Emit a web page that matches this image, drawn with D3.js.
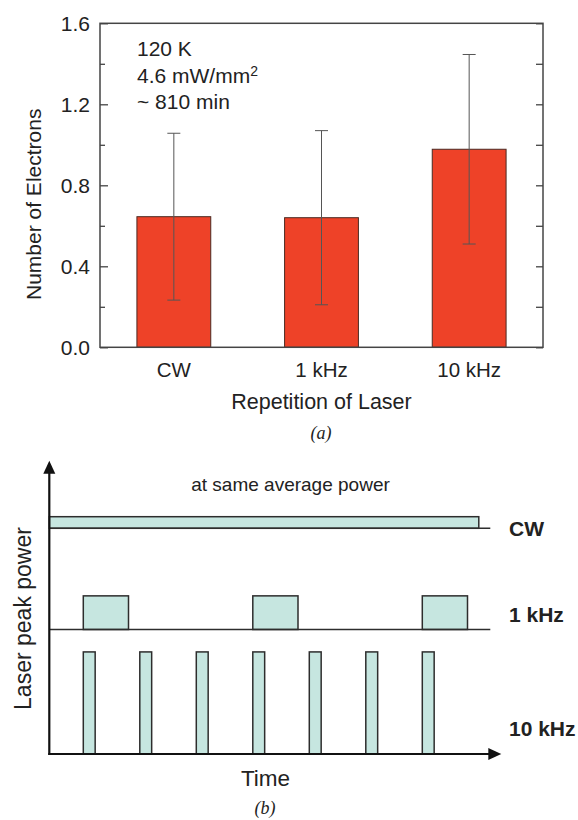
<!DOCTYPE html>
<html>
<head>
<meta charset="utf-8">
<script src="https://cdn.jsdelivr.net/npm/d3@7"></script>
<style>
  html, body { margin: 0; padding: 0; background: #fff; }
  svg { display: block; }
  text { font-family: "Liberation Sans", Arial, Helvetica, sans-serif; fill: #222; }
</style>
</head>
<body>
<svg id="chart" width="578" height="820"></svg>
<script>
// ---------- Panel (a) data ----------
const categories = ["CW", "1 kHz", "10 kHz"];
const means = [0.645, 0.64, 0.978];
const errors = [0.412, 0.43, 0.468];
const yTicks = [0, 0.4, 0.8, 1.2, 1.6];
const yMinorTicks = [0.2, 0.6, 1.0, 1.4];
const yDomain = [0, 1.6];
const annotation = ["120 K", "4.6 mW/mm", "~ 810 min"];
const annotationSup = ["", "2", ""];

// ---------- Panel (b) data ----------
const tracks = ["CW", "1 kHz", "10 kHz"];
const trackPeak = [1, 2.9, 8.8];          // relative peak power
const cwOnOff = [[-0.6, 7.0]];            // CW: on from start to end (time units)
const pulses1k = [0, 3, 6];               // pulse start times
const pulse1kWidth = 0.8;
const pulses10k = [0, 1, 2, 3, 4, 5, 6];  // pulse start times
const pulse10kWidth = 0.21;

const svg = d3.select("#chart");
const SANS = '"Liberation Sans", Arial, sans-serif';

// ================= Panel (a) =================
const A = { left: 100, right: 543, top: 23.3, bottom: 347.3 };
const x = d3.scaleBand().domain(categories).range([A.left, A.right])
  .paddingInner(0.5).paddingOuter(0.25);
const y = d3.scaleLinear().domain(yDomain).range([A.bottom, A.top]);

const gA = svg.append("g");
const data = categories.map((c, i) => ({ c, m: means[i], e: errors[i] }));

// bars
gA.selectAll("rect.bar").data(data).join("rect")
  .attr("class", "bar")
  .attr("x", d => x(d.c))
  .attr("width", x.bandwidth())
  .attr("y", d => y(d.m))
  .attr("height", d => y(0) - y(d.m))
  .attr("fill", "#ee4228")
  .attr("stroke", "#4a2a22")
  .attr("stroke-width", 1);

// error bars
const capW = 6.5;
const cx = d => x(d.c) + x.bandwidth() / 2;
const eg = gA.selectAll("g.err").data(data).join("g").attr("class", "err")
  .attr("stroke", "#555").attr("stroke-width", 1).attr("fill", "none");
eg.append("line")
  .attr("x1", cx).attr("x2", cx)
  .attr("y1", d => y(d.m + d.e)).attr("y2", d => y(d.m - d.e));
eg.append("line")
  .attr("x1", d => cx(d) - capW).attr("x2", d => cx(d) + capW)
  .attr("y1", d => y(d.m + d.e)).attr("y2", d => y(d.m + d.e));
eg.append("line")
  .attr("x1", d => cx(d) - capW).attr("x2", d => cx(d) + capW)
  .attr("y1", d => y(d.m - d.e)).attr("y2", d => y(d.m - d.e));

// frame
gA.append("rect")
  .attr("x", A.left).attr("y", A.top)
  .attr("width", A.right - A.left).attr("height", A.bottom - A.top)
  .attr("fill", "none").attr("stroke", "#444").attr("stroke-width", 1.5);

// left axis (major, labeled)
const leftAxis = gA.append("g").attr("transform", `translate(${A.left},0)`)
  .call(d3.axisLeft(y).tickValues(yTicks).tickFormat(d3.format(".1f"))
    .tickSize(-8).tickPadding(10));
leftAxis.select(".domain").remove();
leftAxis.selectAll(".tick line").attr("stroke", "#444").attr("stroke-width", 1.3);
leftAxis.selectAll(".tick text")
  .style("font-family", SANS)
  .style("font-size", "21px").attr("fill", "#222").attr("dy", "0.36em");

// left minor ticks
const leftMinor = gA.append("g").attr("transform", `translate(${A.left},0)`)
  .call(d3.axisLeft(y).tickValues(yMinorTicks).tickFormat("").tickSize(-5));
leftMinor.select(".domain").remove();
leftMinor.selectAll(".tick line").attr("stroke", "#444").attr("stroke-width", 1.3);

// right ticks
const rightAxis = gA.append("g").attr("transform", `translate(${A.right},0)`)
  .call(d3.axisRight(y).tickValues(yTicks.concat(yMinorTicks)).tickFormat("").tickSize(-7));
rightAxis.select(".domain").remove();
rightAxis.selectAll(".tick line").attr("stroke", "#444").attr("stroke-width", 1.3);

// bottom category labels
const bottomAxis = gA.append("g").attr("transform", `translate(0,${A.bottom})`)
  .call(d3.axisBottom(x).tickSize(0).tickPadding(15));
bottomAxis.select(".domain").remove();
bottomAxis.selectAll(".tick text")
  .style("font-family", SANS)
  .style("font-size", "20.5px").attr("fill", "#222");

// axis titles
gA.append("text")
  .attr("transform", `translate(41,${(A.top + A.bottom) / 2 + 19}) rotate(-90)`)
  .attr("text-anchor", "middle").style("font-size", "21px")
  .text("Number of Electrons");
gA.append("text")
  .attr("x", (A.left + A.right) / 2).attr("y", 409)
  .attr("text-anchor", "middle").style("font-size", "21.5px")
  .text("Repetition of Laser");

// annotation (one text element per line, with optional superscript)
const annLines = gA.selectAll("text.ann").data(annotation).join("text").attr("class", "ann")
  .attr("x", 137).attr("y", (d, i) => 56 + i * 26.6)
  .style("font-size", "21px");
annLines.append("tspan").text(d => d);
annLines.append("tspan")
  .attr("dy", "-0.45em").style("font-size", "14px")
  .text((d, i) => annotationSup[i]);

// panel caption
svg.append("text").attr("x", 321).attr("y", 439)
  .attr("text-anchor", "middle")
  .style("font-family", '"Liberation Serif", "DejaVu Serif", serif')
  .style("font-style", "italic").style("font-size", "18px")
  .text("(a)");

// ================= Panel (b) =================
const B = { axisX: 49.3, axisTop: 460.7, axisY: 754, axisRight: 501.3 };
const t = d3.scaleLinear().domain([0, 7]).range([83.3, 478.8]);
const p = d3.scaleLinear().domain([0, 1]).range([0, 11.6]); // power -> px
const trackBase = [528.3, 629.5, B.axisY];
const lineEnd = 490.3;
const fillB = "#c6e6e0";
const strokeB = "#2d2d2d";

const gB = svg.append("g");

// CW bar
gB.selectAll("rect.cw").data(cwOnOff).join("rect").attr("class", "cw")
  .attr("x", d => t(d[0])).attr("width", d => t(d[1]) - t(d[0]))
  .attr("y", trackBase[0] - p(trackPeak[0])).attr("height", p(trackPeak[0]))
  .attr("fill", fillB).attr("stroke", strokeB).attr("stroke-width", 1.5);

// 1 kHz pulses
gB.selectAll("rect.p1").data(pulses1k).join("rect").attr("class", "p1")
  .attr("x", d => t(d)).attr("width", t(pulse1kWidth) - t(0))
  .attr("y", trackBase[1] - p(trackPeak[1])).attr("height", p(trackPeak[1]))
  .attr("fill", fillB).attr("stroke", strokeB).attr("stroke-width", 1.5);

// 10 kHz pulses
gB.selectAll("rect.p10").data(pulses10k).join("rect").attr("class", "p10")
  .attr("x", d => t(d)).attr("width", t(pulse10kWidth) - t(0))
  .attr("y", trackBase[2] - p(trackPeak[2])).attr("height", p(trackPeak[2]))
  .attr("fill", fillB).attr("stroke", strokeB).attr("stroke-width", 1.5);

// baselines for CW and 1 kHz
gB.selectAll("line.base").data(trackBase.slice(0, 2)).join("line").attr("class", "base")
  .attr("x1", B.axisX).attr("x2", lineEnd)
  .attr("y1", d => d).attr("y2", d => d)
  .attr("stroke", strokeB).attr("stroke-width", 1.6);

// axes with arrows
gB.append("line").attr("x1", B.axisX).attr("x2", B.axisX)
  .attr("y1", B.axisY + 1).attr("y2", B.axisTop + 10)
  .attr("stroke", "#111").attr("stroke-width", 2.2);
gB.append("line").attr("x1", B.axisX - 1).attr("x2", B.axisRight - 10)
  .attr("y1", B.axisY).attr("y2", B.axisY)
  .attr("stroke", "#111").attr("stroke-width", 2.2);
gB.append("path")
  .attr("d", `M${B.axisX},${B.axisTop} L${B.axisX - 6},${B.axisTop + 13} L${B.axisX + 6},${B.axisTop + 13} Z`)
  .attr("fill", "#111");
gB.append("path")
  .attr("d", `M${B.axisRight},${B.axisY} L${B.axisRight - 13},${B.axisY - 6} L${B.axisRight - 13},${B.axisY + 6} Z`)
  .attr("fill", "#111");

// track labels
const labelY = [535.7, 621.7, 736];
gB.selectAll("text.tl").data(tracks).join("text").attr("class", "tl")
  .attr("x", 509).attr("y", (d, i) => labelY[i])
  .style("font-size", "21px").style("font-weight", "bold").attr("fill", "#111")
  .text(d => d);

gB.append("text").attr("x", 290.5).attr("y", 490.5)
  .attr("text-anchor", "middle").style("font-size", "19px")
  .text("at same average power");

gB.append("text")
  .attr("transform", "translate(31,618.5) rotate(-90)")
  .attr("text-anchor", "middle").style("font-size", "23px")
  .text("Laser peak power");

gB.append("text").attr("x", 265.5).attr("y", 786)
  .attr("text-anchor", "middle").style("font-size", "22.5px")
  .text("Time");

svg.append("text").attr("x", 265).attr("y", 814)
  .attr("text-anchor", "middle")
  .style("font-family", '"Liberation Serif", "DejaVu Serif", serif')
  .style("font-style", "italic").style("font-size", "18px")
  .text("(b)");
</script>
</body>
</html>
